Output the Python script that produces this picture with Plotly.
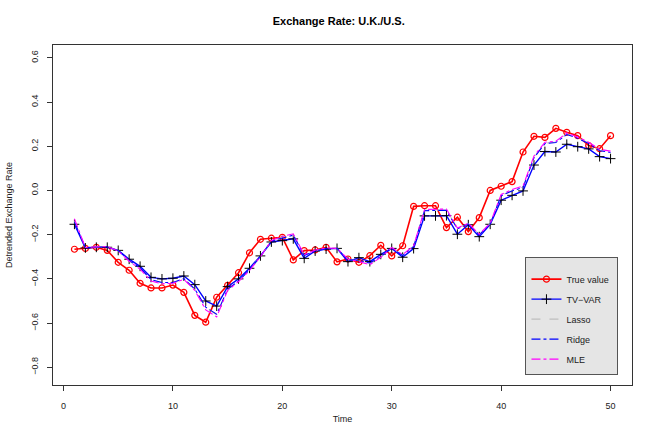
import plotly.graph_objects as go

time = list(range(1, 51))

true_value = [-0.266, -0.262, -0.257, -0.271, -0.325, -0.361, -0.420, -0.441, -0.441, -0.428,
              -0.461, -0.565, -0.596, -0.483, -0.429, -0.372, -0.282, -0.221, -0.216, -0.212,
              -0.314, -0.272, -0.269, -0.257, -0.323, -0.310, -0.325, -0.295, -0.248, -0.296,
              -0.250, -0.072, -0.069, -0.069, -0.168, -0.121, -0.186, -0.123, 0.000, 0.019,
              0.040, 0.174, 0.245, 0.240, 0.281, 0.263, 0.248, 0.203, 0.189, 0.248]

tv_var = [-0.153, -0.260, -0.257, -0.257, -0.271, -0.311, -0.343, -0.393, -0.400, -0.397,
          -0.387, -0.426, -0.500, -0.523, -0.435, -0.400, -0.352, -0.296, -0.233, -0.227,
          -0.219, -0.307, -0.274, -0.265, -0.262, -0.322, -0.304, -0.322, -0.289, -0.262,
          -0.302, -0.263, -0.115, -0.115, -0.114, -0.198, -0.155, -0.209, -0.153, -0.044,
          -0.022, -0.002, 0.115, 0.176, 0.174, 0.209, 0.198, 0.188, 0.153, 0.144]

lasso = [-0.140, -0.258, -0.255, -0.255, -0.272, -0.318, -0.352, -0.405, -0.418, -0.418,
         -0.400, -0.448, -0.530, -0.562, -0.448, -0.410, -0.360, -0.298, -0.228, -0.212,
         -0.200, -0.292, -0.272, -0.262, -0.262, -0.312, -0.318, -0.330, -0.300, -0.260,
         -0.292, -0.252, -0.090, -0.088, -0.088, -0.172, -0.150, -0.200, -0.150, -0.022,
         0.000, 0.015, 0.150, 0.214, 0.219, 0.255, 0.238, 0.214, 0.182, 0.174]

ridge = [-0.142, -0.259, -0.256, -0.256, -0.272, -0.317, -0.350, -0.403, -0.416, -0.416,
         -0.399, -0.446, -0.528, -0.560, -0.447, -0.409, -0.359, -0.298, -0.229, -0.214,
         -0.202, -0.294, -0.273, -0.263, -0.262, -0.314, -0.316, -0.328, -0.299, -0.261,
         -0.294, -0.254, -0.092, -0.090, -0.090, -0.174, -0.151, -0.201, -0.151, -0.024,
         -0.002, 0.013, 0.148, 0.212, 0.217, 0.253, 0.236, 0.212, 0.180, 0.172]

mle = [-0.128, -0.258, -0.255, -0.254, -0.274, -0.320, -0.356, -0.410, -0.422, -0.420,
       -0.402, -0.452, -0.540, -0.572, -0.452, -0.412, -0.362, -0.300, -0.226, -0.208,
       -0.196, -0.290, -0.270, -0.260, -0.262, -0.310, -0.322, -0.336, -0.302, -0.258,
       -0.290, -0.250, -0.086, -0.084, -0.084, -0.170, -0.148, -0.198, -0.148, -0.018,
       0.004, 0.020, 0.156, 0.218, 0.223, 0.260, 0.242, 0.218, 0.186, 0.178]

x_ticks = [0, 10, 20, 30, 40, 50]
y_ticks = [-0.8, -0.6, -0.4, -0.2, 0.0, 0.2, 0.4, 0.6]
y_tick_labels = ["\u22120.8", "\u22120.6", "\u22120.4", "\u22120.2", "0.0", "0.2", "0.4", "0.6"]

FONT = "Liberation Sans, Arial, Helvetica, sans-serif"

fig = go.Figure()

fig.add_trace(go.Scatter(
    x=time, y=true_value, name="True value", mode="lines+markers", legendgroup="a",
    line=dict(color="#ff0000", width=1.6),
    marker=dict(symbol="circle-open", size=6, color="#ff0000", line=dict(width=1.2)),
))
fig.add_trace(go.Scatter(
    x=time, y=tv_var, name="TV\u2212VAR", mode="lines+markers", legendgroup="b",
    line=dict(color="#0000ff", width=1.4),
    marker=dict(symbol="cross-thin-open", size=7, color="#000000", line=dict(width=1, color="#000000")),
))
fig.add_trace(go.Scatter(
    x=time, y=lasso, name="Lasso", mode="lines", legendgroup="c",
    line=dict(color="#bebebe", width=1.1, dash="dash"),
))
fig.add_trace(go.Scatter(
    x=time, y=ridge, name="Ridge", mode="lines", legendgroup="d",
    line=dict(color="#0000ff", width=1.1, dash="dashdot"),
))
fig.add_trace(go.Scatter(
    x=time, y=mle, name="MLE", mode="lines", legendgroup="e",
    line=dict(color="#ff00ff", width=1.1, dash="dashdot"),
))

fig.update_layout(
    width=654, height=436,
    margin=dict(l=53, r=22, t=45, b=51),
    paper_bgcolor="white", plot_bgcolor="white",
    font=dict(family=FONT, size=9, color="#222222"),
    title=dict(text="<b>Exchange Rate: U.K./U.S.</b>", x=0.518, xanchor="center",
               y=0.952, yanchor="middle", font=dict(size=11, color="#000000")),
    showlegend=True,
    legend=dict(
        x=0.816, y=0.376, xanchor="left", yanchor="top",
        bgcolor="#e5e5e5", bordercolor="#555555", borderwidth=1,
        font=dict(size=9, color="#222222"),
        title=dict(text="\u00a0" * 62, font=dict(size=5)),
        tracegroupgap=1, itemwidth=30,
    ),
)

fig.update_xaxes(
    range=[-0.96, 51.96], tickvals=x_ticks, ticktext=[str(v) for v in x_ticks],
    showgrid=False, zeroline=False, showline=True, linecolor="#333333", linewidth=1,
    mirror=True, ticks="outside", ticklen=5, tickcolor="#333333", automargin=False,
    ticklabelstandoff=7,
    title=dict(text="Time", font=dict(size=9), standoff=5),
)
fig.update_yaxes(
    range=[-0.88, 0.658], tickvals=y_ticks, ticktext=y_tick_labels, tickangle=-90,
    showgrid=False, zeroline=False, showline=True, linecolor="#333333", linewidth=1,
    mirror=True, ticks="outside", ticklen=5, tickcolor="#333333", automargin=False,
    ticklabelstandoff=5,
    title=dict(text="Detrended Exchange Rate", font=dict(size=9), standoff=16),
)

fig.write_html(
    "out.html",
    config={"displayModeBar": False},
    post_script="document.body.style.margin='0';document.body.style.overflow='hidden';",
)
